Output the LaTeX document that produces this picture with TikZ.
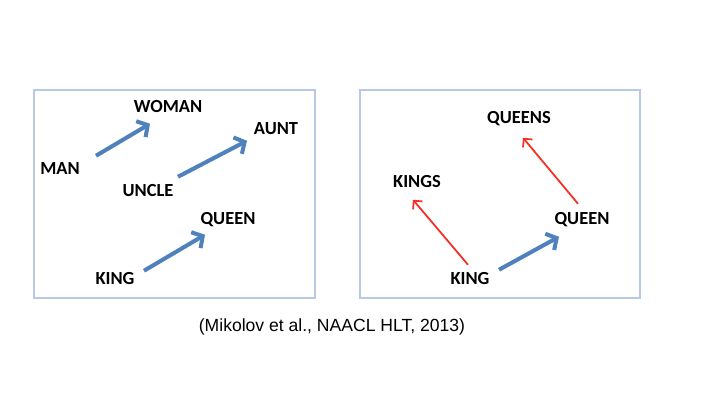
\documentclass[tikz,border=0pt]{standalone}
\usepackage{fontspec}
\setmainfont{Liberation Sans}
\newfontfamily\wordfont{Carlito}
\usetikzlibrary{arrows.meta}
\definecolor{vecblue}{RGB}{79,129,189}
\definecolor{relred}{RGB}{245,45,35}
\definecolor{panelline}{RGB}{185,200,228}
\begin{document}
\begin{tikzpicture}[x=0.02cm, y=-0.02cm,
  word/.style={font=\wordfont\bfseries\fontsize{10.5pt}{12pt}\selectfont, inner sep=2pt, yshift=-1},
  panel/.style={draw=panelline, line width=0.8pt},
  vec/.style={draw=vecblue, line width=2.3pt, -{Straight Barb[length=4.5pt, width=10.5pt]}},
  rel/.style={draw=relred, line width=1pt, -{Straight Barb[length=3.5pt, width=7pt]}}]
\useasboundingbox (0,0) rectangle (711,402);

\draw[panel] (34,90) rectangle (315,298);
\draw[panel] (360,90) rectangle (640,298);

% left panel
\node[word](man) at (60,167) {MAN};
\node[word](woman) at (168,105) {WOMAN};
\node[word](uncle) at (148,189) {UNCLE};
\node[word](aunt) at (276,127) {AUNT};
\node[word](king) at (115,277) {KING};
\node[word](queen) at (228,218) {QUEEN};

\draw[vec] ([shift={(36,-13)}]man.center) -- ([shift={(-18,17)}]woman.center);
\draw[vec] ([shift={(30,-14)}]uncle.center) -- ([shift={(-29,12)}]aunt.center);
\draw[vec] ([shift={(29,-8)}]king.center) -- ([shift={(-23,15)}]queen.center);

% right panel
\node[word](King) at (470,277) {KING};
\node[word](Queen) at (582,218) {QUEEN};
\node[word](Kings) at (417,180) {KINGS};
\node[word](Queens) at (519,117) {QUEENS};

\draw[vec] ([shift={(29,-9)}]King.center) -- ([shift={(-23,17)}]Queen.center);
\draw[rel] ([shift={(-2,-14)}]King.center) -- ([shift={(-4,18)}]Kings.center);
\draw[rel] ([shift={(-4,-16)}]Queen.center) -- ([shift={(4,19)}]Queens.center);

\node[font=\fontsize{10pt}{12pt}\selectfont](cite) at (332,327) {(Mikolov et al., NAACL HLT, 2013)};
\end{tikzpicture}
\end{document}
